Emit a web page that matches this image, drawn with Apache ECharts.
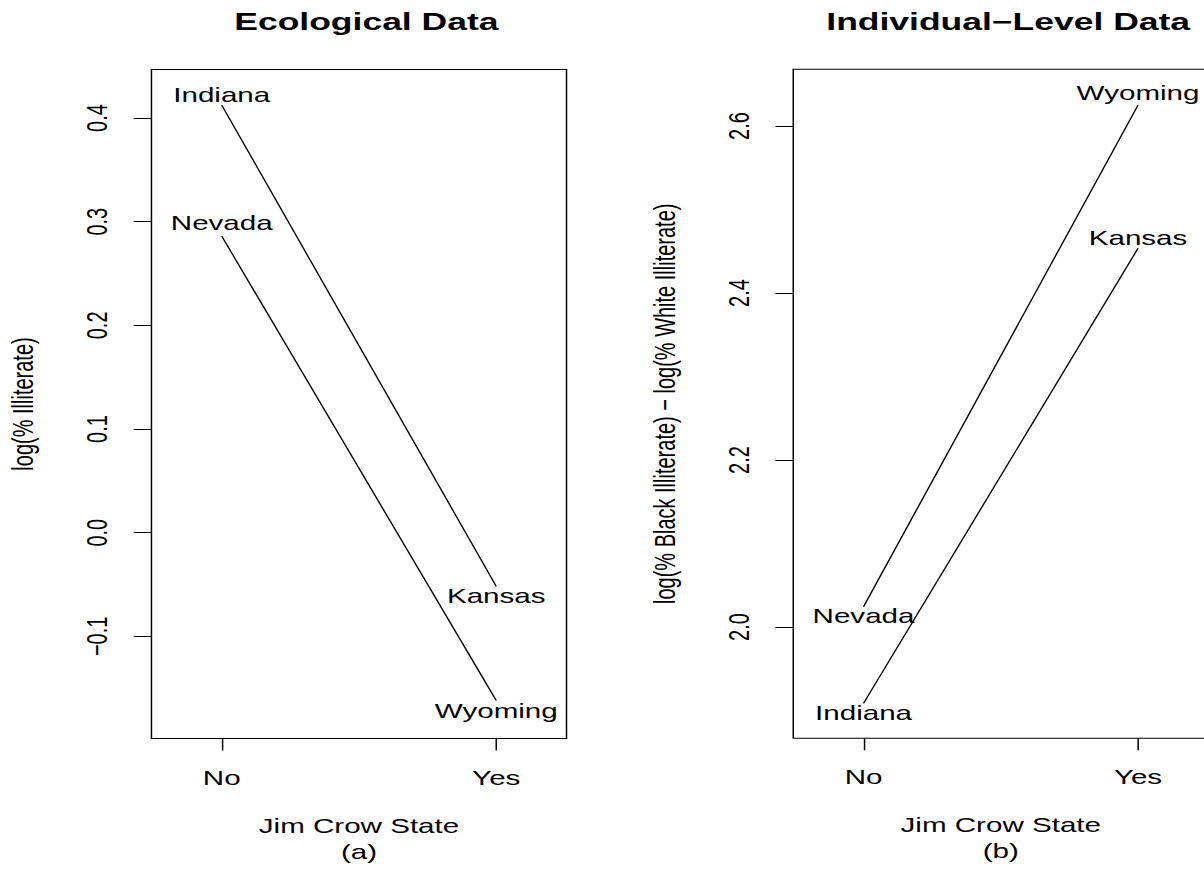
<!DOCTYPE html>
<html><head><meta charset="utf-8">
<script src="https://cdn.jsdelivr.net/npm/echarts@6/dist/echarts.min.js"></script>
<style>
html,body{margin:0;padding:0;background:#fff;overflow:hidden;width:1204px;height:873px;}
#main{width:814px;height:873px;transform:scaleX(1.47912);transform-origin:0 0;}
</style></head><body><div id="main"></div>
<script>
// ---- data ----
const xPositions = [1, 2];
const xTickLabels = ['No', 'Yes'];

// Ecological panel: pairs (No state -> Yes state)
const ecoStatesNo = ['Indiana', 'Nevada'];
const ecoStatesYes = ['Kansas', 'Wyoming'];
const ecoLabelNo = [0.4222, 0.2986];
const ecoLabelYes = [-0.0612, -0.1719];
const ecoLineNo = [0.4125, 0.2861];
const ecoLineYes = [-0.0517, -0.1618];
const ecoYTicks = [-0.1, 0, 0.1, 0.2, 0.3, 0.4];
const ecoYTickLabels = ['\u22120.1', '0.0', '0.1', '0.2', '0.3', '0.4'];

// Individual-level panel
const indStatesNo = ['Nevada', 'Indiana'];
const indStatesYes = ['Wyoming', 'Kansas'];
const indLabelNo = [2.0128, 1.8966];
const indLabelYes = [2.6396, 2.4666];
const indLineNo = [2.0243, 1.9086];
const indLineYes = [2.625, 2.4536];
const indYTicks = [2.0, 2.2, 2.4, 2.6];
const indYTickLabels = ['2.0', '2.2', '2.4', '2.6'];

// ---- chart ----
const FONT = 'Liberation Sans, Arial, Helvetica, sans-serif';
const chart = echarts.init(document.getElementById('main'), null, {renderer: 'svg'});

function xAxisFor(gi, title) {
  return {
    type: 'value', gridIndex: gi, min: 0.744, max: 2.256,
    axisLine: {show: false, onZero: false},
    splitLine: {show: false},
    axisTick: {show: true, customValues: xPositions, length: 12, inside: false,
      lineStyle: {color: '#000', width: 1}},
    axisLabel: {show: true, customValues: xPositions, margin: 29,
      fontSize: 20, color: '#000', fontFamily: FONT,
      formatter: v => xTickLabels[xPositions.indexOf(Math.round(v))]},
    name: title, nameLocation: 'middle', nameGap: 74,
    nameTextStyle: {fontSize: 20, color: '#000', fontFamily: FONT, lineHeight: 26}
  };
}
function yAxisFor(gi, min, max, ticks, labels, title) {
  return {
    type: 'value', gridIndex: gi, min: min, max: max,
    axisLine: {show: false, onZero: false},
    splitLine: {show: false},
    axisTick: {show: true, customValues: ticks, length: 12, inside: false,
      lineStyle: {color: '#000', width: 1}},
    axisLabel: {show: true, customValues: ticks, rotate: 90, margin: 27,
      fontSize: 20, color: '#000', fontFamily: FONT,
      formatter: v => {
        let idx = ticks.findIndex(t => Math.abs(t - v) < 1e-6);
        return idx >= 0 ? labels[idx] : '';
      }},
    name: title, nameLocation: 'middle', nameGap: 77, nameRotate: 90,
    nameTextStyle: {fontSize: 20, color: '#000', fontFamily: FONT}
  };
}
function lineSeries(gi, no, yes) {
  return no.map((v, i) => ({
    type: 'line', xAxisIndex: gi, yAxisIndex: gi, symbol: 'none', silent: true,
    lineStyle: {color: '#000', width: 1},
    data: [[xPositions[0], v], [xPositions[1], yes[i]]]
  }));
}
function labelSeries(gi, namesNo, valsNo, namesYes, valsYes) {
  const data = [];
  namesNo.forEach((n, i) => data.push([xPositions[0], valsNo[i], n]));
  namesYes.forEach((n, i) => data.push([xPositions[1], valsYes[i], n]));
  return {
    type: 'scatter', xAxisIndex: gi, yAxisIndex: gi, symbolSize: 0, silent: true,
    itemStyle: {color: '#000', opacity: 0},
    label: {show: true, position: 'inside', formatter: p => p.value[2],
      fontSize: 20, color: '#000', opacity: 1, fontFamily: FONT,
      textBorderWidth: 0, textBorderColor: 'transparent'},
    data: data
  };
}

const option = {
  animation: false,
  backgroundColor: '#fff',
  title: [
    {text: 'Ecological Data', left: 242.7, top: 5, textAlign: 'center',
      textStyle: {fontSize: 24, fontWeight: 'bold', color: '#000', fontFamily: FONT}},
    {text: 'Individual\u2212Level Data', left: 676.6, top: 5, textAlign: 'center',
      textStyle: {fontSize: 24, fontWeight: 'bold', color: '#000', fontFamily: FONT}}
  ],
  grid: [
    {left: 102.4, right: 431, top: 69.5, bottom: 134.5, show: true,
      borderColor: '#000', borderWidth: 1, backgroundColor: 'transparent',
      containLabel: false, outerBoundsMode: 'none'},
    {left: 536.3, right: -2.9, top: 69.3, bottom: 134.7, show: true,
      borderColor: '#000', borderWidth: 1, backgroundColor: 'transparent',
      containLabel: false, outerBoundsMode: 'none'}
  ],
  xAxis: [xAxisFor(0, 'Jim Crow State\n(a)'), xAxisFor(1, 'Jim Crow State\n(b)')],
  yAxis: [
    yAxisFor(0, -0.1985, 0.4468, ecoYTicks, ecoYTickLabels, 'log(% Illiterate)'),
    yAxisFor(1, 1.8667, 2.668, indYTicks, indYTickLabels,
      'log(% Black Illiterate) \u2212 log(% White Illiterate)')
  ],
  series: [
    ...lineSeries(0, ecoLineNo, ecoLineYes),
    ...lineSeries(1, indLineNo, indLineYes),
    labelSeries(0, ecoStatesNo, ecoLabelNo, ecoStatesYes, ecoLabelYes),
    labelSeries(1, indStatesNo, indLabelNo, indStatesYes, indLabelYes)
  ]
};
chart.setOption(option);
</script></body></html>
